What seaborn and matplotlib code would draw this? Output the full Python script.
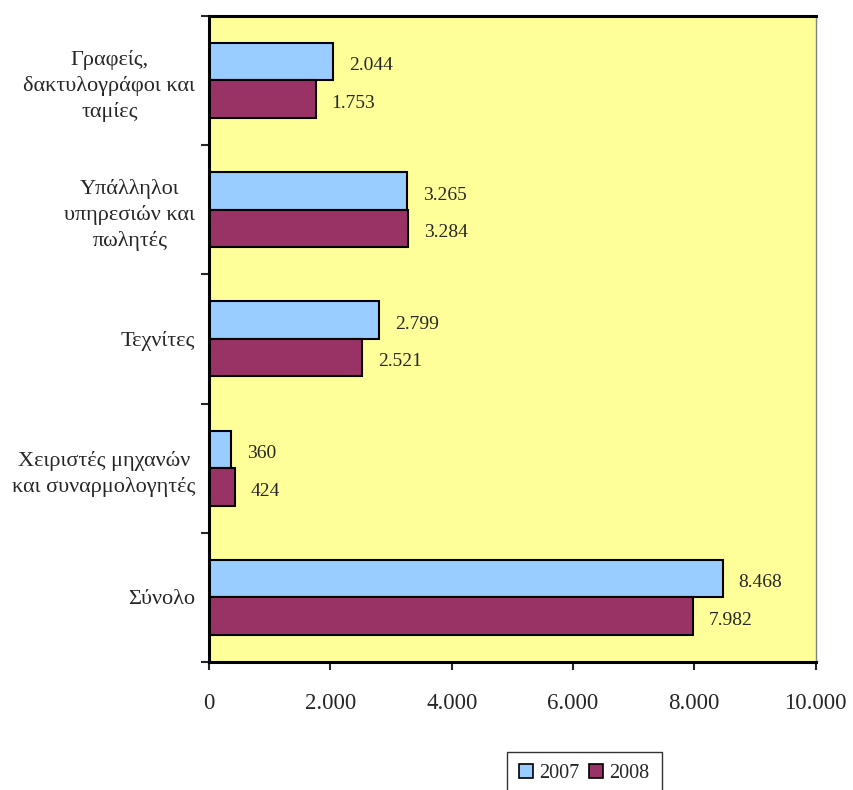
import matplotlib
matplotlib.use("Agg")
import matplotlib.pyplot as plt
import seaborn as sns
import pandas as pd
import numpy as np
from matplotlib.ticker import FixedLocator, FuncFormatter
from matplotlib.patches import Patch

categories = ["Γραφείς,\nδακτυλογράφοι και\nταμίες",
              "Υπάλληλοι\nυπηρεσιών και\nπωλητές",
              "Τεχνίτες",
              "Χειριστές μηχανών\nκαι συναρμολογητές",
              "Σύνολο"]
years = ["2007", "2008"]
values_2007 = [2044, 3265, 2799, 360, 8468]
values_2008 = [1753, 3284, 2521, 424, 7982]
colors = ["#99CCFF", "#993366"]

df = pd.DataFrame({
    "cat": categories * 2,
    "year": [years[0]] * 5 + [years[1]] * 5,
    "value": values_2007 + values_2008,
})

sns.set_style("white")
plt.rcParams['font.family'] = ['Liberation Serif', 'DejaVu Serif']

fig = plt.figure(figsize=(8.54, 7.9), dpi=100)
ax = fig.add_axes([0.245, 0.162, 0.71, 0.818])
ax.set_facecolor("#FFFF99")

sns.barplot(data=df, y="cat", x="value", hue="year", orient="h",
            palette=colors, width=0.58, edgecolor="black", linewidth=1.5,
            saturation=1, ax=ax, legend=False)

def fmt(v):
    return f"{int(v):,}".replace(",", ".")

for cont in ax.containers:
    for bar in cont:
        w = bar.get_width()
        y = bar.get_y() + bar.get_height() / 2
        ax.annotate(fmt(w), (w, y), xytext=(11.5, -3), textcoords="offset points",
                    ha="left", va="center", fontsize=14)

ax.set_xlim(0, 10000)
ax.set_ylim(4.5, -0.5)
ax.set_xticks(np.arange(0, 10001, 2000))
ax.xaxis.set_major_formatter(FuncFormatter(lambda v, p: fmt(v)))
ax.tick_params(axis="x", direction="out", length=6, width=1.5, pad=16,
               labelsize=16.5, bottom=True)
ax.yaxis.set_minor_locator(FixedLocator(np.arange(-0.5, 5, 1)))
ax.tick_params(axis="y", which="minor", direction="out", length=6, width=1.5, left=True)
ax.tick_params(axis="y", which="major", length=0, pad=10, labelsize=16)
for lab in ax.get_yticklabels():
    lab.set_multialignment("center")
    lab.set_linespacing(1.4)
ax.set_xlabel("")
ax.set_ylabel("")

for s in ["left", "bottom", "top"]:
    ax.spines[s].set_color("black")
    ax.spines[s].set_linewidth(2.2)
ax.spines["right"].set_color("#808080")
ax.spines["right"].set_linewidth(1)

handles = [Patch(facecolor=c, edgecolor="black", linewidth=1.2) for c in colors]
leg = fig.legend(handles, years, loc="upper center", bbox_to_anchor=(0.684, 0.048),
                 ncol=2, frameon=True, fontsize=14.5, handlelength=0.7, handleheight=0.7,
                 handletextpad=0.3, columnspacing=0.5, fancybox=False, borderpad=0.6,
                 borderaxespad=0)
leg.get_frame().set_edgecolor("black")
leg.get_frame().set_linewidth(1)

fig.savefig("out.png", dpi=100, facecolor="white")
